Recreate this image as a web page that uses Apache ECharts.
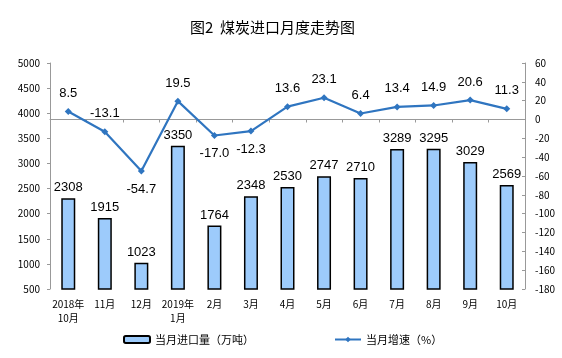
<!DOCTYPE html>
<html><head><meta charset="utf-8">
<script src="https://cdn.jsdelivr.net/npm/echarts@6/dist/echarts.min.js"></script>
<style>html,body{margin:0;padding:0;background:#fff}#c{width:562px;height:358px}</style>
</head><body><div id="c"></div>
<script>
const categories = ['2018年\n10月','11月','12月','2019年\n1月','2月','3月','4月','5月','6月','7月','8月','9月','10月'];
const importVolume = [2308,1915,1023,3350,1764,2348,2530,2747,2710,3289,3295,3029,2569];
const growthRate = [8.5,-13.1,-54.7,19.5,-17.0,-12.3,13.6,23.1,6.4,13.4,14.9,20.6,11.3];
const belowLabelIdx = [2,4,5];

const chart = echarts.init(document.getElementById('c'), null, {renderer:'canvas'});
const axisFont = {fontFamily:'"Noto Sans CJK SC", "Liberation Serif", serif', fontSize:10, color:'#000'};
chart.setOption({
  animation:false,
  backgroundColor:'#fff',
  title:{text:'图2  煤炭进口月度走势图', left:185, top:15,
    textStyle:{fontFamily:'"Noto Sans CJK SC", sans-serif', fontSize:15, fontWeight:'normal', color:'#000'}},
  grid:{left:50, right:37, top:63, bottom:69},
  legend:{bottom:8, left:118, itemGap:80, itemWidth:26, itemHeight:7,
    textStyle:{fontFamily:'"Noto Sans CJK SC", sans-serif', fontSize:11, color:'#000'},
    data:[{name:'当月进口量（万吨）'},{name:'当月增速（%）'}]},
  xAxis:{type:'category', data:categories,
    axisLine:{lineStyle:{color:'#999'}},
    axisTick:{show:true, alignWithLabel:false, length:3, lineStyle:{color:'#999'}},
    axisLabel:Object.assign({interval:0, margin:8, lineHeight:14}, axisFont)},
  yAxis:[
    {type:'value', min:500, max:5000, interval:500, position:'left',
     axisLine:{show:true, lineStyle:{color:'#999'}}, axisTick:{show:true, length:3, lineStyle:{color:'#999'}},
     splitLine:{show:false}, axisLabel:Object.assign({margin:10, formatter:v=>String(v)}, axisFont)},
    {type:'value', min:-180, max:60, interval:20, position:'right',
     axisLine:{show:true, lineStyle:{color:'#999'}}, axisTick:{show:true, inside:true, length:3, lineStyle:{color:'#999'}},
     splitLine:{show:false}, axisLabel:Object.assign({margin:10, formatter:v=>String(v)}, axisFont)}
  ],
  series:[
    {name:'当月进口量（万吨）', type:'bar', yAxisIndex:0, data:importVolume, barWidth:14,
     itemStyle:{color:'#9DCBFB', borderColor:'#000', borderWidth:1.5},
     label:{show:true, position:'top', distance:4, fontFamily:'"Liberation Sans", Arial, sans-serif', fontSize:13, color:'#000'}},
    {name:'当月增速（%）', type:'line', yAxisIndex:1,
     data:growthRate.map((v,i)=>({value:v, label:{position: belowLabelIdx.includes(i)?'bottom':'top'}})),
     symbol:'diamond', symbolSize:7,
     lineStyle:{color:'#2F75C0', width:2.2}, itemStyle:{color:'#2F75C0'},
     label:{show:true, distance:8, fontFamily:'"Liberation Sans", Arial, sans-serif', fontSize:13, color:'#000',
       formatter:p=>p.value.toFixed(1)}}
  ]
});
</script></body></html>
